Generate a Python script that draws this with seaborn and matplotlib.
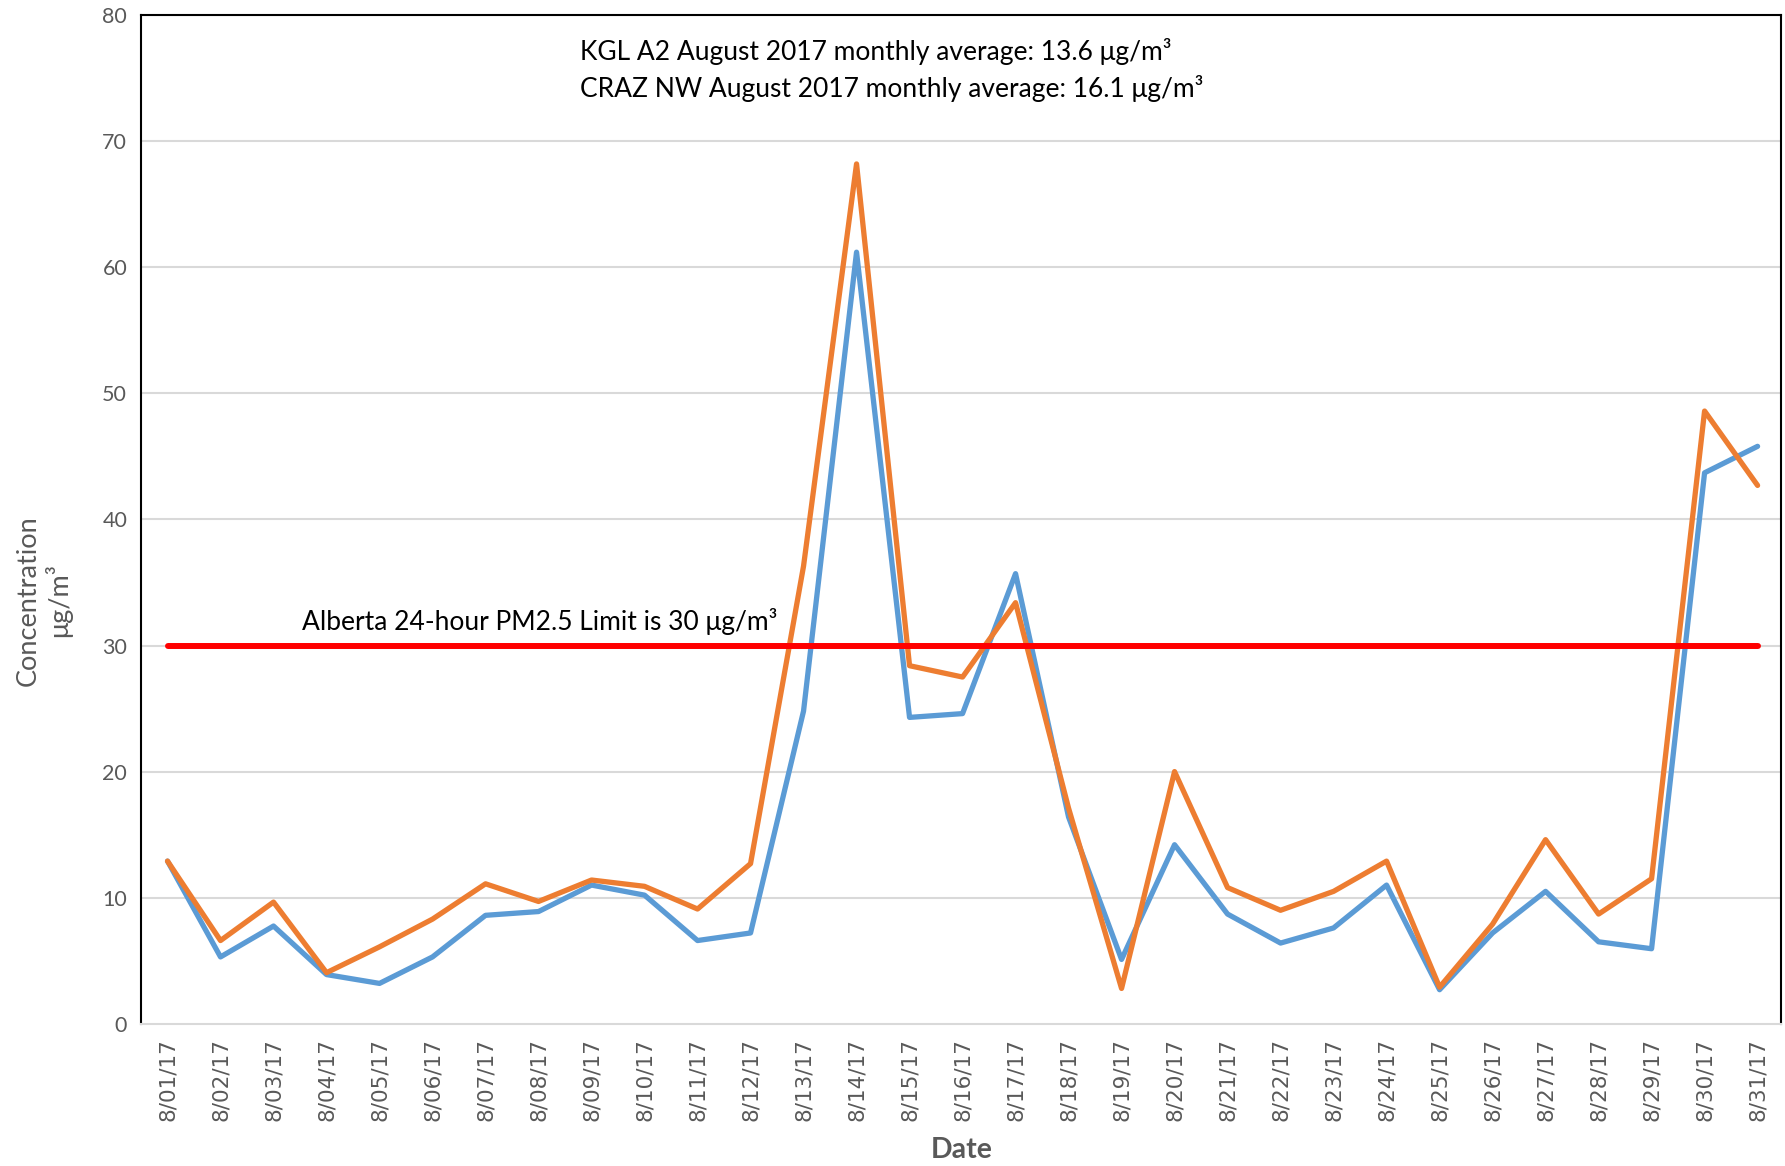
import numpy as np
import pandas as pd
import matplotlib
matplotlib.use("Agg")
import matplotlib.pyplot as plt
import seaborn as sns

dates = [f"8/{d:02d}/17" for d in range(1, 32)]
kgl_a2 = [12.9, 5.3, 7.75, 3.9, 3.2, 5.3, 8.6, 8.9, 11.0, 10.2, 6.6, 7.2, 24.8, 61.2,
          24.3, 24.6, 35.7, 16.4, 5.1, 14.2, 8.7, 6.4, 7.6, 11.0, 2.7, 7.2, 10.5, 6.5,
          5.95, 43.7, 45.8]
craz_nw = [12.9, 6.6, 9.65, 4.05, 6.1, 8.3, 11.1, 9.7, 11.4, 10.9, 9.1, 12.7, 36.3, 68.2,
           28.4, 27.5, 33.4, 17.1, 2.8, 20.0, 10.8, 9.0, 10.5, 12.9, 2.9, 7.9, 14.6, 8.7,
           11.5, 48.6, 42.7]
limit_value = 30
yticks = [0, 10, 20, 30, 40, 50, 60, 70, 80]

sns.set_theme(style="white")
plt.rcParams['font.family'] = ['Lato', 'DejaVu Sans']

df = pd.DataFrame({
    "idx": list(range(len(dates))) * 2,
    "value": kgl_a2 + craz_nw,
    "series": ["KGL A2"] * len(dates) + ["CRAZ NW"] * len(dates),
})

fig = plt.figure(figsize=(17.85, 11.66), dpi=100)
ax = fig.add_axes([0.079, 0.122, 0.919, 0.865])

for y in yticks[1:]:
    ax.axhline(y, color="#D9D9D9", lw=1.5, zorder=0)

sns.lineplot(data=df, x="idx", y="value", hue="series",
             palette={"KGL A2": "#5B9BD5", "CRAZ NW": "#ED7D31"},
             hue_order=["KGL A2", "CRAZ NW"], linewidth=3.8, ax=ax, legend=False,
             zorder=3)

ax.plot([0, len(dates) - 1], [limit_value, limit_value], color="#FF0000", lw=4.3,
        solid_capstyle="round", zorder=4)

ax.set_xlim(-0.5, len(dates) - 0.55)
ax.set_ylim(0, 80)
ax.set_yticks(yticks)
ax.set_yticklabels([str(v) for v in yticks], fontsize=15.5, color="#595959")
ax.set_xticks(range(len(dates)))
ax.set_xticklabels(dates, rotation=90, fontsize=15.5, color="#595959",
                   family=['DejaVu Sans'])
ax.tick_params(axis="both", length=0, pad=10)

for s in ["left", "top", "right"]:
    ax.spines[s].set_color("black")
    ax.spines[s].set_linewidth(1.5)
ax.spines["bottom"].set_color("#D9D9D9")
ax.spines["bottom"].set_linewidth(1.5)

ax.set_xlabel("Date", fontsize=20.5, fontweight="bold", color="#595959", labelpad=12)
ax.set_ylabel("Concentration\nμg/m³", fontsize=19.5, color="#595959",
              linespacing=1.15)
ax.yaxis.set_label_coords(-0.042, 0.42)

ax.text(7.79, 77.1, "KGL A2 August 2017 monthly average: 13.6 μg/m³", fontsize=19,
        color="black", va="center", ha="left")
ax.text(7.79, 74.2, "CRAZ NW August 2017 monthly average: 16.1 μg/m³", fontsize=19,
        color="black", va="center", ha="left")
ax.text(2.53, 31.9, "Alberta 24-hour PM2.5 Limit is 30 μg/m³", fontsize=19,
        color="black", va="center", ha="left")

fig.savefig("out.png", dpi=100)
